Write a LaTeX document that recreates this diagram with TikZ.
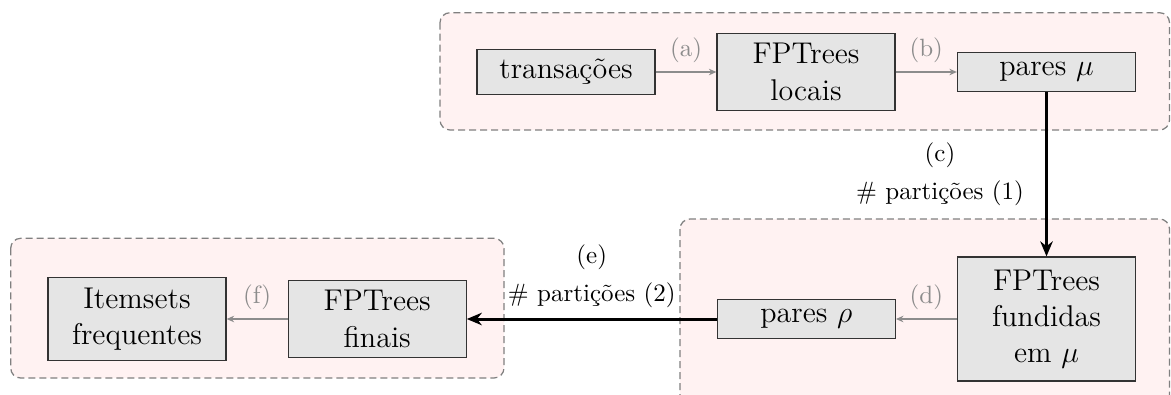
\documentclass[tikz,border=0pt]{standalone}
\usetikzlibrary{arrows.meta}
\tikzset{
  stage/.style={draw=black!80, line width=0.5pt, fill=black!10,
    font=\fontsize{12}{14.5}\selectfont, align=center,
    minimum width=71.2pt, inner sep=4pt},
  region/.style={draw=black!50, fill=red!5, line width=0.5pt,
    dash pattern=on 2.8pt off 1.6pt, rounded corners=4pt},
  flow/.style={draw=black!45, line width=0.5pt,
    -{Stealth[length=3pt,width=2.6pt]}},
  bigflow/.style={draw=black, line width=1.2pt,
    -{Stealth[length=6pt,width=5pt]}},
  steplabel/.style={font=\fontsize{10}{12}\selectfont, text=black!45},
  partlabel/.style={font=\fontsize{10}{15.2}\selectfont, align=center},
}
\begin{document}
\begin{tikzpicture}[x=0.4pt, y=-0.4pt]
  % canvas
  \clip (0,0) rectangle (1171,394);
  \fill[white] (0,0) rectangle (1171,394);

  % stage groups
  \draw[region] (440,12.7) rectangle (1169.5,130);
  \draw[region] (10.7,238.3) rectangle (504,378);
  \draw[region] (680,219) rectangle (1169.5,420);

  % processing stages
  \node[stage] (trans)  at (566,72)    {transações};
  \node[stage] (local)  at (806,72)    {FPTrees\\locais};
  \node[stage] (mu)     at (1046.5,72) {pares $\mu$};
  \node[stage, minimum height=49.6pt] (merged) at (1046.5,319) {FPTrees\\fundidas\\em $\mu$};
  \node[stage] (rho)    at (806.3,319) {pares $\rho$};
  \node[stage] (final)  at (377.2,319) {FPTrees\\finais};
  \node[stage] (items)  at (137,319)   {Itemsets\\frequentes};

  % data flow
  \draw[flow] (trans) -- node[steplabel, above] (la) {(a)} (local);
  \draw[flow] (local) -- node[steplabel, above] (lb) {(b)} (mu);
  \draw[bigflow] (mu) -- node[partlabel, xshift=-42.6pt] (lc) {(c)\\\# partições (1)} (merged);
  \draw[flow] (merged) -- node[steplabel, above] (ld) {(d)} (rho);
  \draw[bigflow] (rho) -- node[partlabel, yshift=17.3pt] (le) {(e)\\\# partições (2)} (final);
  \draw[flow] (final) -- node[steplabel, above] (lf) {(f)} (items);
\end{tikzpicture}
\end{document}
